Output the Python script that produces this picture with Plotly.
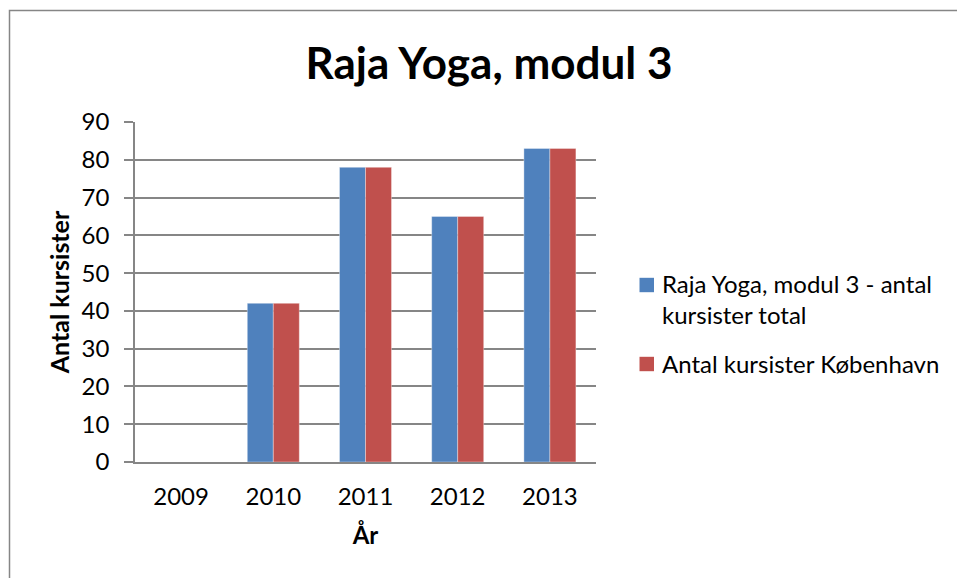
import plotly.graph_objects as go

years = ["2009", "2010", "2011", "2012", "2013"]
total = [0, 42, 78, 65, 83]
kbh = [0, 42, 78, 65, 83]
name_total = "Raja Yoga, modul 3 - antal<br>kursister total"
name_kbh = "Antal kursister København"
title = "Raja Yoga, modul 3"
y_ticks = [0, 10, 20, 30, 40, 50, 60, 70, 80, 90]

FONT = "Lato"
GRID = "#868686"
BLUE = "#4F81BD"
RED = "#C0504D"

fig = go.Figure()
fig.add_trace(go.Bar(x=years, y=total, name=name_total, showlegend=False,
                     marker=dict(color=BLUE, line=dict(color="rgba(255,255,255,0.35)", width=1))))
fig.add_trace(go.Bar(x=years, y=kbh, name=name_kbh, showlegend=False,
                     marker=dict(color=RED, line=dict(color="rgba(255,255,255,0.35)", width=1))))

L, R, T, B = 135, 596, 122, 462
W, H = 957, 578

def px(x):
    return (x - L) / (R - L)

def py(y):
    return (B - y) / (B - T)

shapes = [dict(type="rect", xref="paper", yref="paper",
               x0=px(9.5), x1=px(1100), y0=py(10.5), y1=py(700),
               line=dict(color=GRID, width=1.5), fillcolor="rgba(0,0,0,0)", layer="above")]
annotations = []
# legend (manual, Excel-like)
legend_items = [(name_total, BLUE, 285, 299), (name_kbh, RED, 364, 363)]
for name, color, sq_c, txt_c in legend_items:
    shapes.append(dict(type="rect", xref="paper", yref="paper",
                       x0=px(639.5), x1=px(654), y0=py(sq_c + 7.2), y1=py(sq_c - 7.2),
                       line=dict(width=0), fillcolor=color))
    annotations.append(dict(text=name, xref="paper", yref="paper", x=px(660), y=py(txt_c),
                            xanchor="left", yanchor="middle", align="left", showarrow=False,
                            font=dict(size=24, family=FONT, color="black")))

fig.update_layout(
    width=W, height=H,
    margin=dict(l=L, r=W - R, t=T, b=H - B, autoexpand=False),
    paper_bgcolor="white", plot_bgcolor="white",
    barmode="group", bargap=0.436, bargroupgap=0,
    font=dict(family=FONT, color="black", size=24),
    title=dict(text="<b>" + title + "</b>", x=px(489), xref="paper", xanchor="center",
               y=1 - 64 / H, yanchor="middle", font=dict(size=44, family=FONT)),
    showlegend=False,
    shapes=shapes,
    annotations=annotations,
)

fig.update_xaxes(
    type="category", showgrid=False, showline=True, linecolor=GRID, linewidth=1.5,
    ticks="", tickfont=dict(size=24, family=FONT), ticklabelstandoff=12,
    title=dict(text="<b>År</b>", font=dict(size=24, family=FONT), standoff=19),
)
fig.update_yaxes(
    range=[0, 90], tickvals=y_ticks, showgrid=True, gridcolor=GRID, gridwidth=1.5,
    showline=True, linecolor=GRID, linewidth=1.5, ticks="outside", ticklen=9,
    tickcolor=GRID, tickwidth=1.5, tickfont=dict(size=24, family=FONT),
    ticklabelstandoff=10, zeroline=False,
    title=dict(text="<b>Antal kursister</b>", font=dict(size=25, family=FONT), standoff=5),
)

fig.write_html("out.html", config={"displayModeBar": False},
               post_script="document.body.style.margin='0';")
